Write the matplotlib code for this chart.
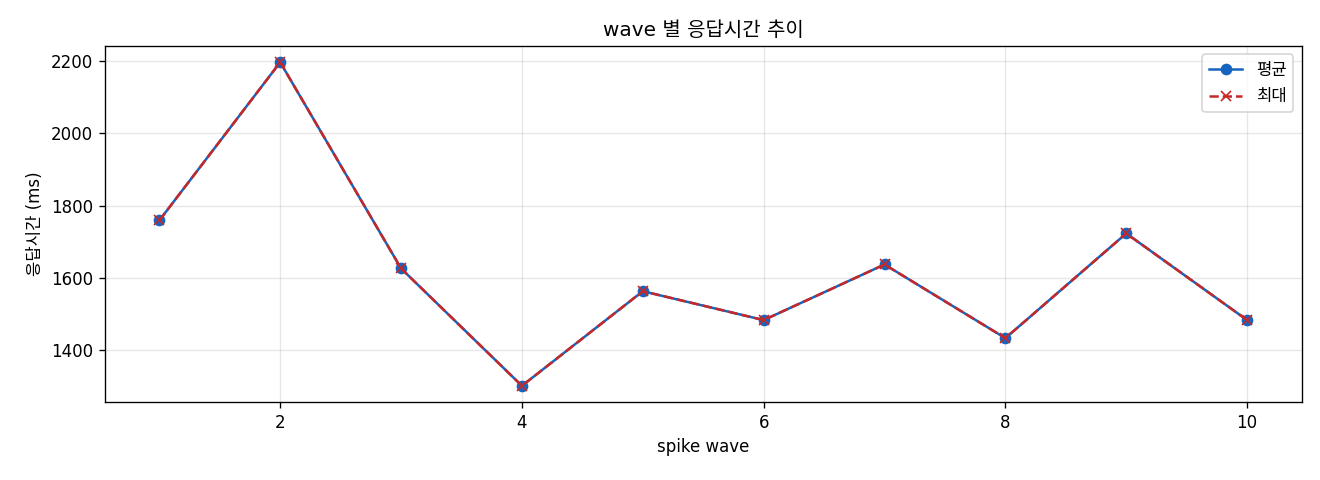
import matplotlib
matplotlib.use("Agg")
import matplotlib.pyplot as plt

plt.rcParams['font.family'] = ['DejaVu Sans', 'Noto Sans CJK KR']
plt.rcParams['axes.unicode_minus'] = False

waves = [1, 2, 3, 4, 5, 6, 7, 8, 9, 10]
avg_ms = [1759, 2197, 1626, 1301, 1563, 1483, 1637, 1433, 1723, 1483]
max_ms = [1759, 2197, 1626, 1301, 1563, 1483, 1637, 1433, 1723, 1483]

fig, ax = plt.subplots(figsize=(11, 4), dpi=120)

ax.plot(waves, avg_ms, 'o-', color='#1565C0', label='평균')
ax.plot(waves, max_ms, 'x--', color='#C62828', label='최대')

ax.set_title('wave 별 응답시간 추이')
ax.set_xlabel('spike wave')
ax.set_ylabel('응답시간 (ms)')
ax.grid(alpha=0.3)
ax.legend()

fig.subplots_adjust(left=0.0795, right=0.986, top=0.904, bottom=0.1625)
fig.savefig('out.png')
